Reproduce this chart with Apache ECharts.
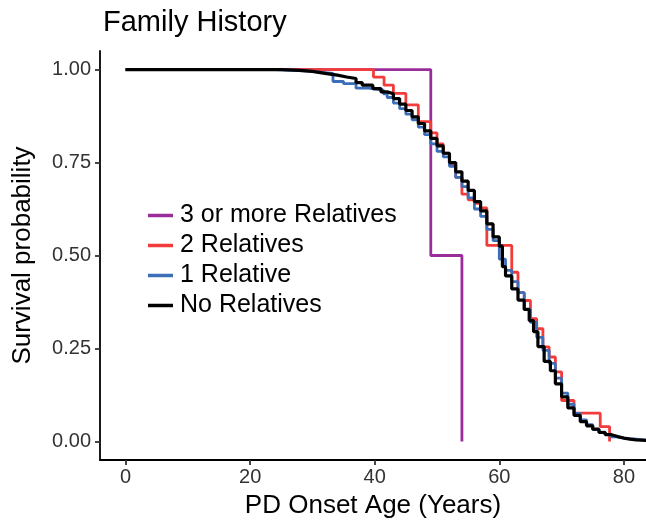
<!DOCTYPE html>
<html>
<head>
<meta charset="utf-8">
<script src="https://cdn.jsdelivr.net/npm/echarts@6/dist/echarts.min.js"></script>
<style>html,body{margin:0;padding:0;background:#fff}#c{width:646px;height:524px}</style>
</head>
<body>
<div id="c"></div>
<script>
// ---- data ----
const seriesNames = ["3 or more Relatives", "2 Relatives", "1 Relative", "No Relatives"];
const xTicks = [0, 20, 40, 60, 80];
const yTicks = [0, 0.25, 0.5, 0.75, 1];

const agesPurple = [0, 49, 54];
const survPurple = [1, 0.5, 0];

const agesRed = [0, 39.8, 41.5, 43, 45, 47, 49, 50, 51, 52, 53, 54, 55, 56, 57, 58, 62, 63, 64, 65, 66, 67, 68, 69, 70, 72, 76.2, 77.7];
const survRed = [1, 0.98, 0.958, 0.936, 0.905, 0.86, 0.83, 0.80, 0.775, 0.745, 0.71, 0.665, 0.65, 0.64, 0.628, 0.527, 0.455, 0.40, 0.379, 0.33, 0.303, 0.254, 0.227, 0.187, 0.11, 0.076, 0.040, 0];

const agesBlue = [0, 24, 27, 30, 33.3, 35, 37, 39, 41.4, 42, 43, 44, 45, 46, 47, 48, 49, 50, 51, 52, 53, 54, 55, 56, 57, 58, 59, 60, 61, 62, 63, 64, 65, 66, 67, 68, 69, 70, 71, 72, 73, 74, 75, 76, 77, 78, 79, 80, 82, 83.6];
const survBlue = [1, 0.998, 0.995, 0.99, 0.968, 0.962, 0.95, 0.945, 0.935, 0.925, 0.91, 0.895, 0.88, 0.865, 0.845, 0.825, 0.80, 0.78, 0.765, 0.74, 0.71, 0.685, 0.655, 0.625, 0.605, 0.57, 0.54, 0.49, 0.46, 0.43, 0.40, 0.355, 0.32, 0.28, 0.245, 0.21, 0.17, 0.13, 0.10, 0.075, 0.058, 0.045, 0.032, 0.025, 0.018, 0.012, 0.008, 0.006, 0.003, 0.003];

const agesBlack = [0, 20, 25, 28, 30, 32, 34, 35.5, 37, 38, 39.7, 41, 42, 43, 44, 45, 46, 47, 48, 49, 50, 51, 52, 53, 54, 55, 56, 57, 58, 59, 60, 60.5, 61, 62, 63, 64, 64.8, 65.5, 66.2, 67.2, 68.2, 69, 70, 71, 72, 73, 74, 75, 76, 77, 78, 79, 80, 81, 82, 83.6];
const survBlack = [1, 1, 0.998, 0.995, 0.99, 0.985, 0.98, 0.976, 0.965, 0.958, 0.949, 0.94, 0.935, 0.922, 0.907, 0.89, 0.873, 0.855, 0.835, 0.815, 0.795, 0.775, 0.75, 0.725, 0.70, 0.675, 0.645, 0.62, 0.585, 0.55, 0.525, 0.47, 0.445, 0.41, 0.38, 0.355, 0.325, 0.295, 0.255, 0.215, 0.19, 0.155, 0.12, 0.09, 0.07, 0.053, 0.042, 0.033, 0.024, 0.018, 0.013, 0.009, 0.006, 0.004, 0.003, 0.003];

const colors = ["#9B2D9B", "#F23B3B", "#3D6EB8", "#000000"];

function pairs(a, b) { return a.map((v, i) => [v, b[i]]); }
const allData = [pairs(agesPurple, survPurple), pairs(agesRed, survRed), pairs(agesBlue, survBlue), pairs(agesBlack, survBlack)];

const FONT = "'Liberation Sans', Arial, sans-serif";
const chart = echarts.init(document.getElementById('c'), null, {renderer: 'canvas'});
chart.setOption({
  animation: false,
  title: {
    text: 'Family History', left: 98, top: 3,
    textStyle: {fontFamily: FONT, fontSize: 29, fontWeight: 'normal', color: '#000'}
  },
  legend: {
    orient: 'vertical', left: 143, top: 198, itemGap: 5,
    icon: 'rect', itemWidth: 25, itemHeight: 3.5,
    data: seriesNames,
    textStyle: {fontFamily: FONT, fontSize: 25, color: '#000', padding: [0, 0, 0, 2]}
  },
  grid: {left: 100, right: 0, top: 51, bottom: 62, containLabel: false},
  xAxis: {
    type: 'value', min: -4.1, max: 83.55,
    name: 'PD Onset Age (Years)', nameLocation: 'middle', nameGap: 33,
    nameTextStyle: {fontFamily: FONT, fontSize: 26, color: '#000'},
    axisLine: {show: true, onZero: false, lineStyle: {color: '#000', width: 1.8}},
    axisTick: {show: true, customValues: xTicks, length: 5, lineStyle: {color: '#333', width: 1.8}},
    axisLabel: {customValues: xTicks, fontFamily: FONT, fontSize: 20, color: '#333', margin: 7},
    splitLine: {show: false}
  },
  yAxis: {
    type: 'value', min: -0.05, max: 1.05,
    name: 'Survival probability', nameLocation: 'middle', nameGap: 64, nameRotate: 90,
    nameTextStyle: {fontFamily: FONT, fontSize: 26, color: '#000'},
    axisLine: {show: true, onZero: false, lineStyle: {color: '#000', width: 1.8}},
    axisTick: {show: true, customValues: yTicks, length: 5, lineStyle: {color: '#333', width: 1.8}},
    axisLabel: {customValues: yTicks, fontFamily: FONT, fontSize: 20, color: '#333', margin: 9,
      formatter: v => v.toFixed(2)},
    splitLine: {show: false}
  },
  series: seriesNames.map((n, i) => ({
    name: n, type: 'line', step: 'end', showSymbol: false, symbol: 'none',
    data: allData[i], color: colors[i],
    lineStyle: {width: i === 3 ? 3.2 : 2.8, color: colors[i]},
    clip: true
  }))
});
</script>
</body>
</html>
